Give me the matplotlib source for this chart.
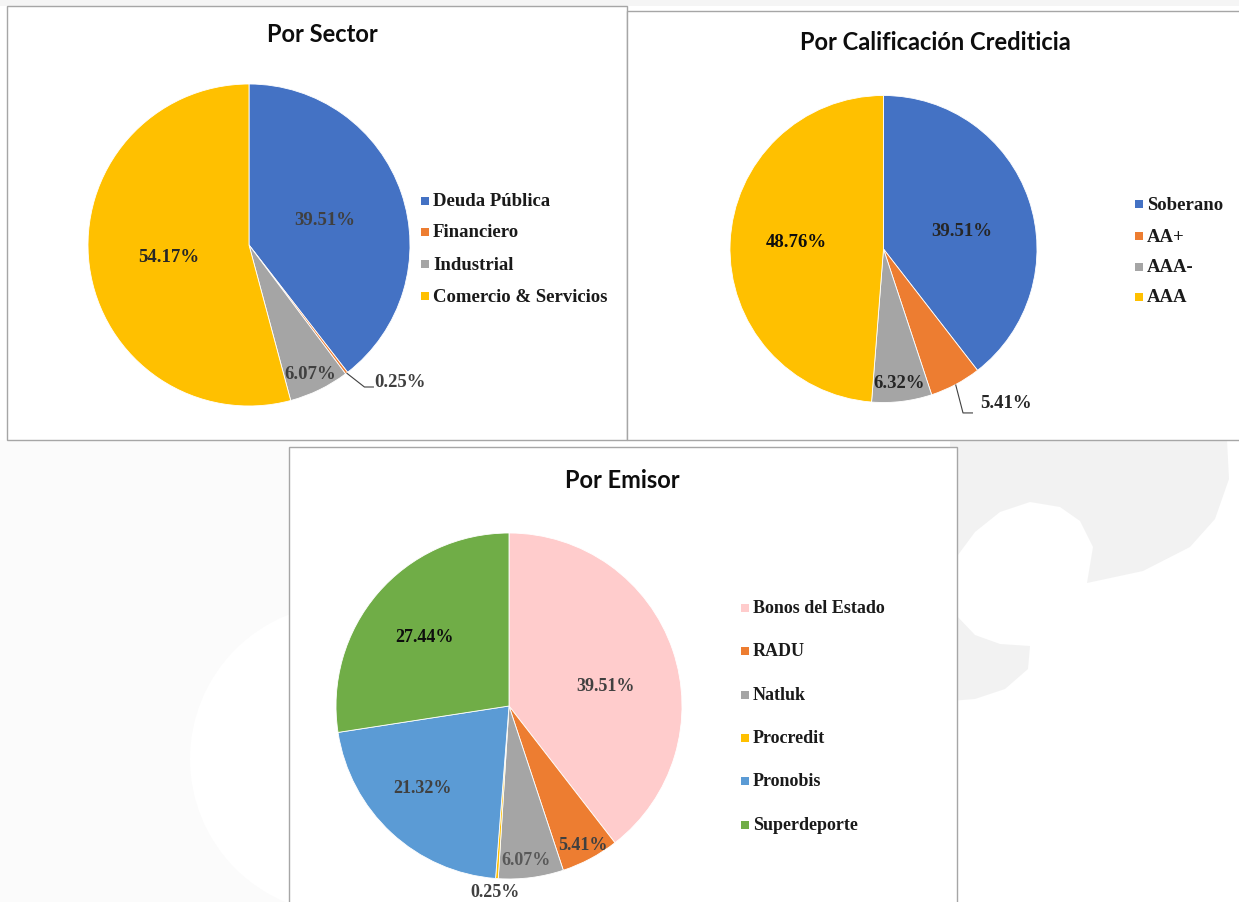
import matplotlib
matplotlib.use("Agg")
import matplotlib.pyplot as plt
from matplotlib.patches import Rectangle, Circle, PathPatch
from matplotlib.path import Path
import numpy as np

# ---------------- data ----------------
sector_labels = ['Deuda Pública', 'Financiero', 'Industrial', 'Comercio & Servicios']
sector_values = [39.51, 0.25, 6.07, 54.17]

rating_labels = ['Soberano', 'AA+', 'AAA-', 'AAA']
rating_values = [39.51, 5.41, 6.32, 48.76]

issuer_labels = ['Bonos del Estado', 'RADU', 'Natluk', 'Procredit', 'Pronobis', 'Superdeporte']
issuer_values = [39.51, 5.41, 6.07, 0.25, 21.32, 27.44]

titles = ['Por Sector', 'Por Calificación Crediticia', 'Por Emisor']

# ---------------- styles ----------------
BLUE, ORANGE, GRAY, YELLOW = '#4472C4', '#ED7D31', '#A5A5A5', '#FFC000'
PINK, LBLUE, GREEN = '#FFCCCC', '#5B9BD5', '#70AD47'
sector_colors = [BLUE, ORANGE, GRAY, YELLOW]
rating_colors = [BLUE, ORANGE, GRAY, YELLOW]
issuer_colors = [PINK, ORANGE, GRAY, YELLOW, LBLUE, GREEN]

W, H = 1239, 903
SERIF = 'Liberation Serif'
TITLE_FONT = 'Lato'

fig = plt.figure(figsize=(W / 100, H / 100), dpi=100)
fig.patch.set_facecolor('white')


def fx(x):
    return x / W


def fy(y):
    return 1 - y / H


# faint background watermark
bg = fig.add_axes([0, 0, 1, 1], zorder=-10)
bg.set_xlim(0, W)
bg.set_ylim(H, 0)
bg.axis('off')
bg.add_patch(Rectangle((0, 441), 300, 470, facecolor='#fbfbfb', edgecolor='none'))
bg.add_patch(Circle((345, 760), 155, facecolor='white', edgecolor='none'))
bg.add_patch(Rectangle((0, 0), W, 7, facecolor='#f5f5f5', edgecolor='none'))
blob = [(950, 441), (1227, 441), (1229, 480), (1215, 520), (1190, 548), (1143, 572),
        (1087, 584), (1093, 548), (1080, 522), (1060, 508), (1030, 503), (1000, 513),
        (975, 533), (955, 560), (955, 615), (975, 636), (1000, 645), (1030, 647),
        (1028, 670), (1005, 690), (975, 700), (950, 702), (950, 441)]
codes = [Path.MOVETO] + [Path.LINETO] * (len(blob) - 2) + [Path.CLOSEPOLY]
bg.add_patch(PathPatch(Path(blob, codes), facecolor='#f2f2f2', edgecolor='none'))


def box(x0, y0, x1, y1):
    fig.add_artist(Rectangle((fx(x0), fy(y1)), (x1 - x0) / W, (y1 - y0) / H,
                             transform=fig.transFigure, facecolor='white',
                             edgecolor='#a6a6a6', lw=1.0, zorder=0))


box(7, 7, 627, 441)
box(627, 12, 1250, 441)
box(289, 448, 957, 915)


def draw_pie(cx, cy, r, values, colors, label_pos, label_colors, fs, leaders, k=1.4):
    ax = fig.add_axes([fx(cx - k * r), fy(cy + k * r), 2 * k * r / W, 2 * k * r / H], zorder=2)
    wedges, _ = ax.pie(values, colors=colors, startangle=90, counterclock=False,
                       radius=1, wedgeprops=dict(edgecolor='white', linewidth=0.6))
    ax.set_xlim(-k, k)
    ax.set_ylim(-k, k)
    ax.set_aspect('equal')
    ax.axis('off')
    for i, v in enumerate(values):
        txt = f'{v:.2f}%'
        if i in leaders:
            (tx, ty), (ex, ey), (lx, ly) = leaders[i]
            w = wedges[i]
            mid = np.deg2rad((w.theta1 + w.theta2) / 2)
            sx, sy = np.cos(mid), np.sin(mid)
            ax.plot([sx, ex, lx], [sy, ey, ly], color='#404040', lw=0.8, solid_capstyle='butt')
            ax.text(tx, ty, txt, ha='left', va='center', fontsize=fs, fontweight='bold',
                    family=SERIF, color=label_colors[i])
        else:
            px, py = label_pos[i]
            ax.text(px, py, txt, ha='center', va='center', fontsize=fs, fontweight='bold',
                    family=SERIF, color=label_colors[i])
    return ax


def legend(labels, colors, x_sq, rows, fs, sq=8):
    for lab, col, y in zip(labels, colors, rows):
        fig.add_artist(Rectangle((fx(x_sq), fy(y + sq / 2)), sq / W, sq / H,
                                 transform=fig.transFigure, facecolor=col,
                                 edgecolor='none', zorder=3))
        fig.text(fx(x_sq + sq + 4), fy(y), lab, ha='left', va='center', fontsize=fs,
                 fontweight='bold', family=SERIF, color='#1a1a1a', zorder=3)


# ---- Panel 1: Por Sector ----
draw_pie(249, 246, 161, sector_values, sector_colors,
         [(0.47, 0.16), None, (0.38, -0.80), (-0.50, -0.07)],
         ['#404040', '#404040', '#404040', '#262626'], 13.5,
         {1: ((0.775, -0.845), (0.717, -0.882), (0.776, -0.882))})
legend(sector_labels, sector_colors, 421, [202, 233, 265, 297], 13.5)
fig.text(fx(322), fy(35), titles[0], ha='center', va='center', fontsize=17,
         fontweight='bold', family=TITLE_FONT, color='#0d0d0d')

# ---- Panel 2: Por Calificación Crediticia ----
draw_pie(883.5, 250, 153.5, rating_values, rating_colors,
         [(0.51, 0.12), None, (0.10, -0.87), (-0.57, 0.05)],
         ['#262626', '#262626', '#262626', '#0d0d0d'], 13.5,
         {1: ((0.629, -1.003), (0.518, -1.068), (0.583, -1.068))})
legend(rating_labels, rating_colors, 1135, [205, 237, 268, 298], 13.5)
fig.text(fx(935), fy(42), titles[1], ha='center', va='center', fontsize=17,
         fontweight='bold', family=TITLE_FONT, color='#0d0d0d')

# ---- Panel 3: Por Emisor ----
draw_pie(509, 707, 173, issuer_values, issuer_colors,
         [(0.56, 0.12), (0.43, -0.80), (0.10, -0.89), (-0.08, -1.075), (-0.50, -0.47), (-0.49, 0.40)],
         ['#404040', '#404040', '#595959', '#404040', '#404040', '#0d0d0d'], 13, {})
legend(issuer_labels, issuer_colors, 741, [609, 652, 696, 739, 782, 826], 13)
fig.text(fx(622), fy(480), titles[2], ha='center', va='center', fontsize=17,
         fontweight='bold', family=TITLE_FONT, color='#0d0d0d')

fig.savefig('out.png', dpi=100, facecolor='white')
